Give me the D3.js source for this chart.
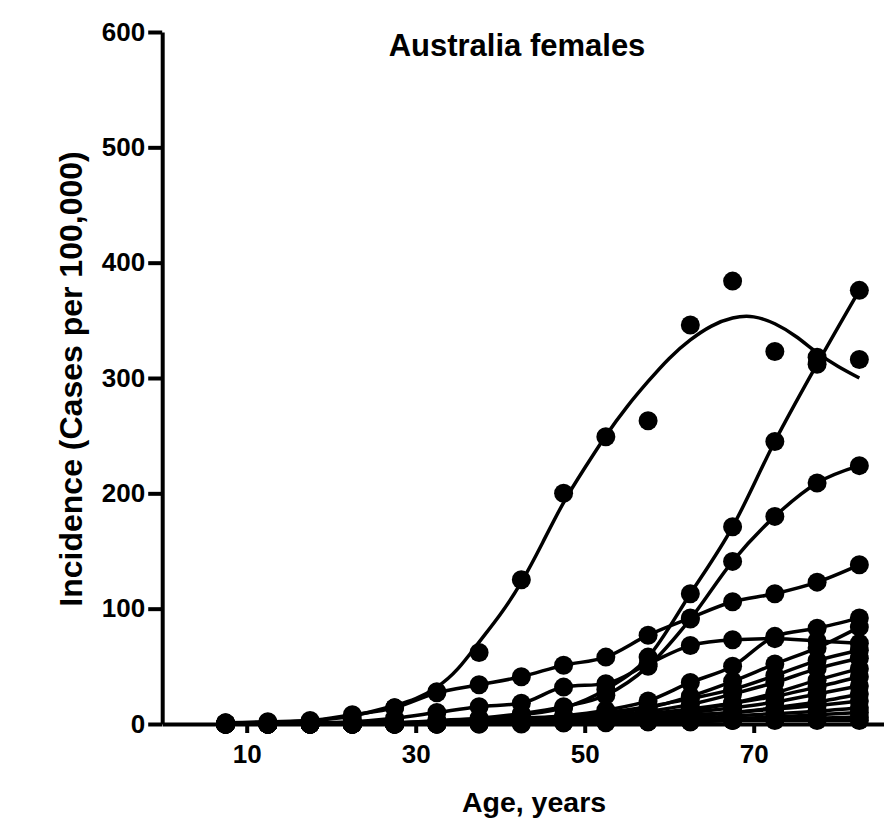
<!DOCTYPE html>
<html>
<head>
<meta charset="utf-8">
<script src="https://cdn.jsdelivr.net/npm/d3@7"></script>
<style>
  html, body { margin: 0; padding: 0; background: #fff; }
  svg { display: block; }
  text { font-family: "Liberation Sans", Arial, Helvetica, sans-serif; font-weight: bold; fill: #000; }
</style>
</head>
<body>
<svg id="chart" width="884" height="820"></svg>
<script>
// ---------- data ----------
const ages = [7.5, 12.5, 17.5, 22.5, 27.5, 32.5, 37.5, 42.5, 47.5, 52.5, 57.5, 62.5, 67.5, 72.5, 77.5, 82.5];
const xTicks = [10, 30, 50, 70];
const yTicks = [0, 100, 200, 300, 400, 500, 600];

const breastObserved = [0, 0, 1, 4, 14, 28, 62, 125, 200, 249, 263, 346, 384, 323, 318, 316];
const breastFitAges = [7.5, 12.5, 17.5, 22.5, 27.5, 30, 32.5, 35, 37.5, 40, 42.5, 45, 47.5, 50, 52.5, 55, 57.5, 60, 62.5, 65, 67.5, 70, 72.5, 75, 77.5, 80, 82.5];
const breastFit = [0, 1, 3, 7, 16, 22, 32, 48, 71, 95, 123, 157, 192, 222, 250, 275, 297, 317, 333, 345, 352, 353, 347, 336, 322, 310, 300];

// other cancer sites
const site02 = [0, 0, 0, 0, 1, 2, 4, 8, 14, 30, 58, 113, 171, 245, 312, 376];
const site03 = [0, 0, 0, 1, 1, 3, 5, 9, 15, 25, 50, 91, 141, 180, 209, 224];
const site04 = [1, 2, 3, 8, 14, 27, 34, 41, 51, 58, 77, 92, 106, 113, 123, 138];
const site05 = [0, 0, 1, 2, 5, 10, 15, 18, 32, 35, 52, 68, 73, 74, 72, 70];
const site06 = [0, 0, 0, 0, 1, 1, 2, 4, 7, 12, 20, 36, 50, 76, 83, 92];
const site07 = [0, 0, 0, 0, 0, 1, 2, 3, 5, 9, 14, 24, 37, 52, 66, 84];
const site08 = [0, 0, 0, 0, 1, 2, 3, 5, 7, 10, 15, 22, 30, 42, 55, 64];
const site09 = [0, 0, 0, 0, 0, 1, 2, 3, 5, 7, 11, 17, 26, 36, 48, 57];
const site10 = [0, 0, 0, 0, 0, 0, 1, 2, 3, 5, 8, 12, 18, 27, 38, 48];
const site11 = [0, 0, 0, 0, 1, 1, 2, 3, 4, 6, 9, 13, 18, 24, 32, 41];
const site12 = [0, 0, 0, 0, 0, 1, 1, 2, 3, 5, 7, 10, 14, 19, 26, 33];
const site13 = [0, 0, 0, 0, 0, 0, 1, 1, 2, 3, 5, 7, 10, 14, 19, 26];
const site14 = [0, 0, 0, 0, 0, 1, 1, 2, 3, 4, 6, 8, 10, 13, 16, 20];
const site15 = [0, 0, 0, 0, 0, 0, 1, 1, 2, 3, 4, 5, 7, 9, 11, 14];
const site16 = [0, 0, 0, 0, 0, 0, 0, 1, 1, 2, 3, 4, 5, 6, 8, 10];
const site17 = [0, 0, 0, 0, 0, 0, 0, 0, 1, 1, 2, 2, 3, 4, 5, 6];
const site18 = [1, 1, 1, 1, 1, 1, 1, 1, 2, 2, 2, 2, 3, 3, 3, 3];

const otherSites = [site02, site03, site04, site05, site06, site07, site08, site09, site10,
                    site11, site12, site13, site14, site15, site16, site17, site18];

const titleText = "Australia females";
const xLabel = "Age, years";
const yLabel = "Incidence (Cases per 100,000)";

// ---------- drawing ----------
const svg = d3.select("#chart");
const x = d3.scaleLinear().domain([0, 85.5]).range([162.2, 884.7]);
const y = d3.scaleLinear().domain([0, 600]).range([724, 32]);

const line = d3.line()
  .x(d => x(d[0]))
  .y(d => y(d[1]))
  .curve(d3.curveMonotoneX);

const fitLine = d3.line()
  .x(d => x(d[0]))
  .y(d => y(d[1]))
  .curve(d3.curveNatural);

const plot = svg.append("g");

// lines of other sites
otherSites.forEach(vals => {
  plot.append("path")
    .datum(ages.map((a, i) => [a, vals[i]]))
    .attr("d", line)
    .attr("fill", "none")
    .attr("stroke", "#000")
    .attr("stroke-width", 3.5);
});

// fitted curve of the peaked series
plot.append("path")
  .datum(breastFitAges.map((a, i) => [a, breastFit[i]]))
  .attr("d", fitLine)
  .attr("fill", "none")
  .attr("stroke", "#000")
  .attr("stroke-width", 3.5);

// points
const allSeries = [breastObserved].concat(otherSites);
allSeries.forEach(vals => {
  plot.selectAll(null)
    .data(ages.map((a, i) => [a, vals[i]]))
    .enter().append("circle")
    .attr("cx", d => x(d[0]))
    .attr("cy", d => y(d[1]))
    .attr("r", 9.5)
    .attr("fill", "#000");
});

// axes
const yAxis = d3.axisLeft(y).tickValues(yTicks).tickSize(14).tickSizeOuter(0).tickPadding(3);
const xAxis = d3.axisBottom(x).tickValues(xTicks).tickSize(9).tickSizeOuter(0).tickPadding(12);

const gy = svg.append("g").attr("transform", `translate(${x(0)},0)`).call(yAxis);
const gx = svg.append("g").attr("transform", `translate(0,${y(0)})`).call(xAxis);

[gx, gy].forEach(g => {
  g.selectAll("path, line").attr("stroke", "#000").attr("stroke-width", 4);
  g.selectAll("text")
    .style("font-family", '"Liberation Sans", Arial, sans-serif')
    .style("font-weight", "bold")
    .style("font-size", "26px")
    .attr("fill", "#000");
});

// title and labels
svg.append("text")
  .attr("x", 517).attr("y", 56)
  .attr("text-anchor", "middle")
  .style("font-size", "31px")
  .text(titleText);

svg.append("text")
  .attr("x", 534).attr("y", 812)
  .attr("text-anchor", "middle")
  .style("font-size", "28.5px")
  .text(xLabel);

svg.append("text")
  .attr("transform", "translate(82,379) rotate(-90)")
  .attr("text-anchor", "middle")
  .style("font-size", "32px")
  .text(yLabel);
</script>
</body>
</html>
